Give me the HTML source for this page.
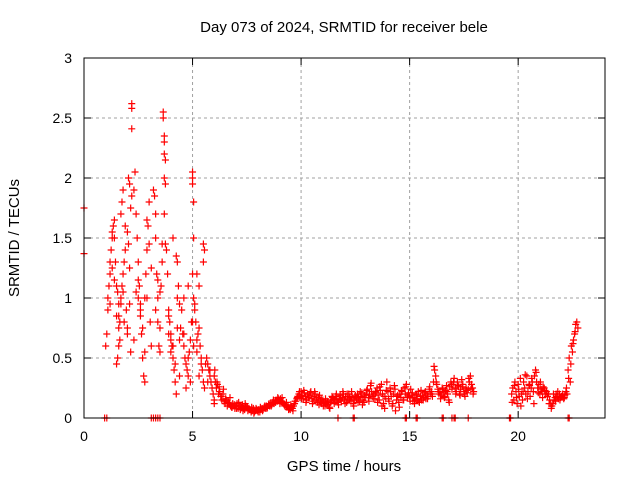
<!DOCTYPE html>
<html><head><meta charset="utf-8"><style>
body{margin:0;background:#fff}
svg text{font-family:"Liberation Sans",sans-serif;fill:#000}
</style></head><body>
<svg id="chart" width="640" height="480" viewBox="0 0 640 480" xmlns="http://www.w3.org/2000/svg">
<rect width="640" height="480" fill="#fff"/>
<text x="344" y="32" font-size="15" text-anchor="middle">Day 073 of 2024, SRMTID for receiver bele</text>
<text transform="translate(19,238) rotate(-90)" font-size="15" text-anchor="middle">SRMTID / TECUs</text>
<text x="344" y="471" font-size="15" text-anchor="middle">GPS time / hours</text>
<g id="grid"></g><g id="ticks"></g><g id="marks"></g>
<rect x="84" y="58" width="521" height="360" fill="none" stroke="#000" stroke-width="1"/>
</svg>
<script>
const xTicks=[0,5,10,15,20];
const yTicks=[0,0.5,1,1.5,2,2.5,3];
const yTickLabels=["0","0.5","1","1.5","2","2.5","3"];
const scatterHours=[0,0,
1.0,1.05,1.1,1.1,1.15,1.2,1.2,1.25,1.3,1.3,1.35,1.4,1.4,1.45,1.5,1.5,1.55,1.6,1.6,1.65,1.7,1.75,1.8,
1.5,1.55,1.6,1.65,1.7,1.75,1.8,1.85,1.9,1.95,2.0,2.0,2.05,2.1,2.1,2.15,2.15,2.2,2.1,2.05,1.9,1.85,
2.2,2.2,2.2,
2.3,2.35,2.4,2.45,2.5,2.55,2.6,2.65,2.7,2.75,2.8,2.85,2.9,2.95,3.0,3.05,3.1,2.4,2.5,2.6,2.7,2.8,2.9,3.0,3.1,
3.2,3.25,3.3,3.3,3.35,3.4,3.4,3.45,3.5,3.5,3.55,3.6,
3.65,3.65,3.7,3.7,3.7,3.75,3.7,3.75,3.7,3.6,3.75,
3.8,3.85,3.9,3.95,4.0,4.05,4.1,4.15,4.2,4.25,4.3,4.35,4.4,4.45,4.0,4.2,4.3,4.4,3.9,4.1,4.25,
4.5,4.55,4.6,4.65,4.7,4.75,4.8,4.85,4.9,4.95,4.6,4.8,4.9,
5.0,5.0,5.0,5.05,5.05,5.0,5.05,5.0,5.05,
5.5,5.55,5.5,5.2,5.3,5.1,5.15,5.25,5.35,5.4,5.45,5.5,5.55,5.6,5.2,5.3,
5.65,5.7,5.75,5.8,5.85,5.9,5.95,6.0,5.7,5.8,6.0,
1.2,1.4,1.6,1.8,2.0,2.3,2.6,2.9,3.3,3.5,3.9,4.1,4.3,4.6,4.8,5.2,5.4,1.3,1.7,2.5,2.8,3.4,4.0,4.4,4.7,5.1,5.3];
const scatterValues=[1.37,1.75,
0.6,0.7,0.9,1.0,1.1,1.2,1.3,1.4,1.5,1.55,1.6,1.65,1.5,1.3,1.1,0.85,1.05,0.95,0.75,0.65,1.7,1.8,1.9,
0.45,0.5,0.6,0.8,1.0,1.1,1.2,1.3,1.4,0.9,0.7,1.55,1.45,1.25,0.95,0.55,1.75,1.85,1.95,2.0,1.6,0.8,
2.62,2.58,2.41,
1.9,2.05,1.7,1.5,1.3,1.1,0.9,0.7,0.5,0.35,1.0,1.2,1.4,1.6,1.8,0.8,0.6,1.05,1.15,0.95,0.75,0.3,1.65,1.45,1.25,
1.9,1.85,1.7,1.5,1.2,1.0,0.8,0.6,0.55,0.75,1.1,1.3,
2.55,2.5,2.35,2.3,2.2,2.15,2.0,1.95,1.7,1.45,1.45,
1.4,1.2,0.9,0.8,0.7,0.6,0.5,0.4,0.3,0.2,1.0,1.1,0.95,0.75,0.55,0.45,1.3,0.65,0.85,1.5,1.35,
0.9,0.7,0.6,0.5,0.45,0.4,0.35,0.55,0.65,0.8,1.0,1.1,0.3,
2.05,2.0,1.95,1.8,1.5,1.2,1.0,0.8,0.6,
1.45,1.4,1.3,1.2,1.1,0.95,0.8,0.7,0.6,0.5,0.4,0.3,0.25,0.45,0.55,0.35,
0.5,0.45,0.4,0.35,0.3,0.25,0.2,0.15,0.3,0.4,0.12,
0.95,1.15,0.85,1.05,0.75,0.65,0.85,1.0,0.9,1.05,0.7,0.6,0.75,0.7,0.5,0.65,0.45,1.25,0.95,1.0,0.55,1.15,0.65,0.35,0.25,0.9,0.75];
const quietStart=6.0;
const quietValues=[
0.35,0.3,0.25,0.28,0.2,0.22,0.18,0.15,0.2,0.14,0.12,0.15,0.1,0.13,0.12,0.1,0.09,0.12,0.1,0.08,
0.1,0.12,0.08,0.1,0.07,0.09,0.11,0.08,0.07,0.1,0.09,0.06,0.08,0.07,0.05,0.06,0.08,0.05,0.06,0.07,
0.06,0.07,0.05,0.07,0.08,0.07,0.09,0.08,0.1,0.09,0.11,0.1,0.12,0.11,0.13,0.12,0.14,0.15,0.14,0.16,
0.15,0.16,0.14,0.13,0.12,0.1,0.11,0.09,0.1,0.08,0.07,0.09,0.08,0.1,0.12,0.14,0.16,0.18,0.2,0.17,
0.22,0.19,0.16,0.21,0.18,0.15,0.2,0.17,0.19,0.22,0.16,0.14,0.18,0.2,0.15,0.13,0.17,0.19,0.14,0.12,
0.15,0.13,0.1,0.12,0.14,0.11,0.09,0.13,0.15,0.17,0.16,0.14,0.18,0.15,0.13,0.16,0.19,0.14,0.17,0.2,
0.15,0.18,0.13,0.16,0.2,0.17,0.14,0.18,0.12,0.15,0.19,0.16,0.2,0.17,0.14,0.18,0.21,0.15,0.13,0.17,
0.2,0.24,0.17,0.19,0.27,0.22,0.18,0.2,0.16,0.21,0.25,0.19,0.15,0.23,0.28,0.2,0.12,0.08,0.16,0.3,
0.22,0.14,0.25,0.18,0.1,0.2,0.27,0.06,0.15,0.19,0.13,0.2,0.17,0.22,0.15,0.25,0.2,0.28,0.17,0.21,
0.18,0.24,0.19,0.14,0.17,0.15,0.2,0.16,0.22,0.13,0.18,0.15,0.19,0.17,0.21,0.16,0.2,0.18,0.24,0.2,
0.22,0.18,0.3,0.4,0.35,0.28,0.24,0.2,0.22,0.19,0.25,0.21,0.17,0.23,0.27,0.2,0.15,0.26,0.3,0.24,
0.28,0.33,0.25,0.22,0.3,0.26,0.2,0.24,0.32,0.28,0.22,0.18,0.25,0.21,0.24,0.3,0.35,0.28,0.25,0.22];
const quietStart2=6.025;
const quietValues2=[
0.4,0.3,0.26,0.18,0.24,0.16,0.12,0.17,0.09,0.11,
0.08,0.13,0.1,0.06,0.12,0.09,0.07,0.09,0.04,0.08,
0.05,0.09,0.06,0.1,0.08,0.12,0.1,0.15,0.13,0.17,
0.12,0.17,0.11,0.13,0.07,0.11,0.06,0.14,0.17,0.22,
0.16,0.23,0.13,0.17,0.21,0.12,0.22,0.17,0.11,0.16,
0.1,0.16,0.13,0.08,0.18,0.12,0.2,0.11,0.16,0.22,
0.12,0.2,0.15,0.22,0.1,0.17,0.13,0.22,0.11,0.19,
0.23,0.14,0.29,0.16,0.22,0.13,0.26,0.1,0.18,0.23,
0.16,0.22,0.12,0.24,0.18,0.09,0.23,0.15,0.26,0.19,
0.14,0.21,0.12,0.19,0.14,0.23,0.15,0.22,0.16,0.26,
0.2,0.43,0.3,0.22,0.16,0.24,0.18,0.22,0.13,0.28,
0.3,0.2,0.27,0.19,0.26,0.2,0.23,0.33,0.24,0.2];
const lateStart=19.7;
const lateValues=[
0.2,0.25,0.15,0.3,0.22,0.12,0.28,0.18,0.33,0.2,
0.15,0.3,0.25,0.2,0.35,0.22,0.28,0.18,0.25,0.3,
0.22,0.35,0.4,0.3,0.25,0.28,0.2,0.24,0.22,0.26,
0.25,0.2,0.22,0.18,0.2,0.15,0.12,0.1,0.12,0.15,
0.17,0.2,0.18,0.16,0.2,0.17,0.18,0.2,0.16,0.19,
0.22,0.2,0.4,0.5,0.3,0.6,0.55,0.65,0.7,0.78,0.8,0.75];
const lateStart2=19.725;
const lateValues2=[0.13,0.27,0.17,0.24,0.1,0.22,0.36,0.16,0.27,0.33,0.12,0.38,0.21,0.3,0.17,0.23,0.2,0.12,0.08,0.2,0.14,0.22,0.15,0.18,0.17,0.25,0.33,0.45,0.62,0.72];
const zeroHours=[0.95,1.05,3.1,3.2,3.3,3.4,3.5,11.7,12.4,12.45,14.8,14.85,15.3,15.35,16.5,16.55,16.95,17.05,17.1,17.7,19.6,19.65,22.3,22.35];

const NS="http://www.w3.org/2000/svg";
const X=h=>84+h*(521/24);
const Y=v=>418-v*120;
function mk(tag,attrs,parent){const e=document.createElementNS(NS,tag);for(const k in attrs)e.setAttribute(k,attrs[k]);parent.appendChild(e);return e;}
const grid=document.getElementById('grid'),ticks=document.getElementById('ticks'),marks=document.getElementById('marks');
xTicks.forEach(t=>{
  const x=X(t);
  if(t>0){const g=mk('line',{x1:x,y1:58,x2:x,y2:418,stroke:'#a0a0a0','stroke-dasharray':'3,3'},grid);
  
  }
  mk('line',{x1:x,y1:418,x2:x,y2:411,stroke:'#000'},ticks);
  mk('line',{x1:x,y1:58,x2:x,y2:65,stroke:'#000'},ticks);
  const l=mk('text',{x:x,y:441,'font-size':'14','text-anchor':'middle'},ticks);l.textContent=t;
  
  
});
yTicks.forEach((t,i)=>{
  const y=Y(t);
  if(t>0&&t<3){const g=mk('line',{x1:84,y1:y,x2:605,y2:y,stroke:'#a0a0a0','stroke-dasharray':'3,3'},grid);
  
  }
  mk('line',{x1:84,y1:y,x2:91,y2:y,stroke:'#000'},ticks);
  mk('line',{x1:605,y1:y,x2:598,y2:y,stroke:'#000'},ticks);
  const l=mk('text',{x:72,y:y+5,'font-size':'14','text-anchor':'end'},ticks);l.textContent=yTickLabels[i];
  
  
});
function plus(h,v){
  const x=X(h),y=Y(v);
  const p=mk('path',{d:`M${x-3.5},${y}H${x+3.5}M${x},${y-3.5}V${y+3.5}`,stroke:'#f00','stroke-width':'1.2',fill:'none'},marks);
  
  
}
scatterHours.forEach((h,i)=>plus(h,scatterValues[i]));
quietValues.forEach((v,i)=>plus(quietStart+i*0.05,v));
quietValues2.forEach((v,i)=>plus(quietStart2+i*0.1,v));
lateValues.forEach((v,i)=>plus(lateStart+i*0.05,v));
lateValues2.forEach((v,i)=>plus(lateStart2+i*0.1,v));
zeroHours.forEach(h=>plus(h,0));
</script>
</body></html>
